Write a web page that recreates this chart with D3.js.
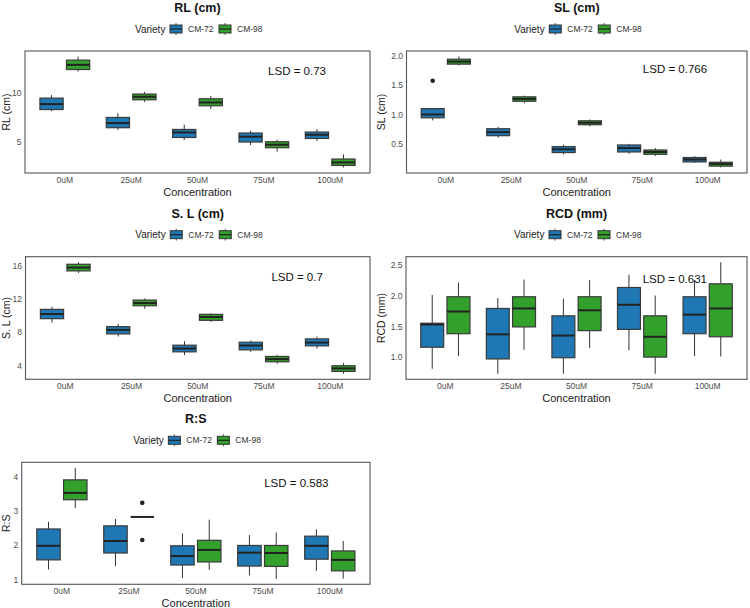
<!DOCTYPE html>
<html lang="en">
<head>
  <meta charset="UTF-8">
  <title>Boxplots by Concentration and Variety</title>
  <script src="https://d3js.org/d3.v7.min.js"></script>
  <style>
    body {
      margin: 0;
      background: white;
      font-family: "Liberation Sans", Arial, sans-serif;
    }
  </style>
</head>
<body>
  <svg width="750" height="608"></svg>
  <script>
    const concentrations = ["0uM", "25uM", "50uM", "75uM", "100uM"];
    const varieties = ["CM-72", "CM-98"];
    const colors = ["#1f78b4", "#33a02c"];

    // [lower whisker, Q1, median, Q3, upper whisker] for each concentration
    const rl72 = [[8.13, 8.30, 8.86, 9.48, 9.79], [6.18, 6.42, 6.90, 7.48, 7.93], [5.14, 5.41, 5.93, 6.24, 6.73], [4.63, 4.94, 5.49, 5.87, 6.11], [5.04, 5.31, 5.69, 5.97, 6.28]];
    const rl98 = [[12.23, 12.44, 12.92, 13.41, 13.78], [9.07, 9.31, 9.62, 9.90, 10.13], [8.35, 8.69, 9.03, 9.41, 9.69], [3.97, 4.35, 4.66, 4.97, 5.18], [2.31, 2.52, 2.83, 3.18, 3.66]];
    const sl72 = [[0.90, 0.944, 1.0, 1.10, 1.10], [0.606, 0.64, 0.70, 0.758, 0.79], [0.319, 0.353, 0.409, 0.454, 0.488], [0.33, 0.363, 0.43, 0.482, 0.50], [0.177, 0.194, 0.235, 0.269, 0.29]];
    const sl98 = [[1.833, 1.856, 1.90, 1.94, 1.985], [1.19, 1.225, 1.265, 1.30, 1.32], [0.797, 0.826, 0.86, 0.893, 0.916], [0.296, 0.324, 0.363, 0.397, 0.43], [0.10, 0.122, 0.16, 0.189, 0.235]];
    const sdl72 = [[9.16, 9.64, 10.2, 10.76, 11.08], [7.48, 7.8, 8.28, 8.68, 9.0], [5.24, 5.64, 6.04, 6.44, 6.92], [5.64, 5.88, 6.4, 6.8, 7.0], [6.04, 6.36, 6.76, 7.2, 7.48]];
    const sdl98 = [[15.16, 15.4, 15.8, 16.2, 16.44], [10.84, 11.2, 11.52, 11.88, 12.08], [9.24, 9.44, 9.84, 10.16, 10.28], [4.2, 4.44, 4.76, 5.08, 5.28], [3.0, 3.28, 3.64, 3.96, 4.28]];
    const rcd72 = [[0.81, 1.16, 1.53, 1.55, 2.01], [0.73, 0.97, 1.37, 1.79, 1.96], [0.73, 0.99, 1.35, 1.67, 1.95], [1.11, 1.45, 1.85, 2.13, 2.34], [1.02, 1.38, 1.69, 1.98, 2.25]];
    const rcd98 = [[1.02, 1.38, 1.74, 1.98, 2.21], [1.12, 1.49, 1.79, 1.98, 2.26], [1.15, 1.43, 1.76, 1.98, 2.25], [0.73, 1.0, 1.33, 1.67, 2.0], [1.01, 1.33, 1.79, 2.19, 2.54]];
    const rs72 = [[1.29, 1.57, 1.98, 2.47, 2.68], [1.39, 1.77, 2.12, 2.56, 2.76], [1.04, 1.42, 1.68, 1.98, 2.34], [1.12, 1.39, 1.78, 1.99, 2.29], [1.25, 1.59, 1.98, 2.26, 2.46]];
    const rs98 = [[3.08, 3.32, 3.52, 3.90, 4.25], [2.82, 2.82, 2.82, 2.82, 2.82], [1.28, 1.51, 1.86, 2.14, 2.74], [1.02, 1.38, 1.77, 1.99, 2.37], [1.02, 1.25, 1.57, 1.83, 2.12]];

    const slOutliers = [{conc: "0uM", variety: "CM-72", value: 1.574}];
    const rsOutliers = [{conc: "25uM", variety: "CM-98", value: 3.23}, {conc: "25uM", variety: "CM-98", value: 2.15}];

    const rlTicks = [5, 10];
    const slTicks = [0.5, 1.0, 1.5, 2.0];
    const sdlTicks = [4, 8, 12, 16];
    const rcdTicks = [1.0, 1.5, 2.0, 2.5];
    const rsTicks = [1, 2, 3, 4];

    const lsdLabels = ["LSD = 0.73", "LSD = 0.766", "LSD = 0.7", "LSD = 0.631", "LSD = 0.583"];

    const panels = [
      {title: "RL (cm)", ylab: "RL (cm)", s72: rl72, s98: rl98, out: [], ticks: rlTicks, fmt: d3.format("d"), lsd: lsdLabels[0], lsdY: 12.3,
       col: 0, left: 25, right: 370, top: 51, bottom: 173},
      {title: "SL (cm)", ylab: "SL (cm)", s72: sl72, s98: sl98, out: slOutliers, ticks: slTicks, fmt: d3.format(".1f"), lsd: lsdLabels[1], lsdY: 1.78,
       col: 375, left: 406.5, right: 747, top: 51, bottom: 173},
      {title: "S. L (cm)", ylab: "S. L (cm)", s72: sdl72, s98: sdl98, out: [], ticks: sdlTicks, fmt: d3.format("d"), lsd: lsdLabels[2], lsdY: 14.7,
       col: 0, left: 25.5, right: 370, top: 256.7, bottom: 379.3},
      {title: "RCD (mm)", ylab: "RCD (mm)", s72: rcd72, s98: rcd98, out: [], ticks: rcdTicks, fmt: d3.format(".1f"), lsd: lsdLabels[3], lsdY: 2.27,
       col: 375, left: 406, right: 747, top: 256.7, bottom: 379.3},
      {title: "R:S", ylab: "R:S", s72: rs72, s98: rs98, out: rsOutliers, ticks: rsTicks, fmt: d3.format("d"), lsd: lsdLabels[4], lsdY: 3.82,
       col: 0, left: 21.7, right: 370, top: 462.3, bottom: 584.3}
    ];

    const svg = d3.select("svg");

    panels.forEach(p => {
      const g = svg.append("g");
      const series = [p.s72, p.s98];

      const allVals = series.flat(2).concat(p.out.map(d => d.value));
      const [lo, hi] = d3.extent(allVals);
      const pad = (hi - lo) * 0.05;

      const x = d3.scaleBand().domain(concentrations).range([p.left, p.right])
        .paddingInner(0).paddingOuter(0.1);
      const step = x.step();
      const xSub = d3.scaleBand().domain(varieties).range([-0.4 * step, 0.4 * step])
        .paddingInner(0.125).paddingOuter(0.0625);
      const y = d3.scaleLinear().domain([lo - pad, hi + pad]).range([p.bottom, p.top]);

      const cx = (c, v) => x(c) + step / 2 + xSub(v) + xSub.bandwidth() / 2;
      const mid = (p.left + p.right) / 2;

      // title
      g.append("text").attr("x", mid).attr("y", p.top - 39)
        .attr("text-anchor", "middle").attr("font-size", 12.5).attr("font-weight", "bold")
        .attr("fill", "#111").text(p.title);

      // legend
      const ly = p.top - 22;
      const lg = g.append("g").attr("transform", `translate(${mid},${ly})`);
      lg.append("text").attr("x", -62.5).attr("y", 3.5).attr("font-size", 10).attr("fill", "#222").text("Variety");
      varieties.forEach((v, i) => {
        const kx = i === 0 ? -27.5 : 21.5;
        lg.append("line").attr("x1", kx + 6).attr("x2", kx + 6).attr("y1", -6).attr("y2", 6)
          .attr("stroke", "#333").attr("stroke-width", 0.8);
        lg.append("rect").attr("x", kx).attr("y", -4).attr("width", 12).attr("height", 8)
          .attr("fill", colors[i]).attr("stroke", "#333").attr("stroke-width", 1);
        lg.append("line").attr("x1", kx).attr("x2", kx + 12).attr("y1", 0).attr("y2", 0)
          .attr("stroke", "#222").attr("stroke-width", 1.2);
        lg.append("text").attr("x", kx + 18).attr("y", 3).attr("font-size", 8.5).attr("fill", "#333").text(v);
      });

      // panel border
      g.append("rect").attr("x", p.left).attr("y", p.top)
        .attr("width", p.right - p.left).attr("height", p.bottom - p.top)
        .attr("fill", "none").attr("stroke", "#555").attr("stroke-width", 1.1);

      // y axis labels
      const yAxis = d3.axisLeft(y).tickValues(p.ticks).tickFormat(p.fmt).tickSize(0).tickPadding(3.5);
      const ya = g.append("g").attr("transform", `translate(${p.left},0)`).call(yAxis);
      ya.select(".domain").remove();
      ya.selectAll("text").attr("font-size", 8.5).attr("fill", "#4d4d4d")
        .attr("font-family", "'Liberation Sans', Arial, sans-serif");

      // x axis labels
      const xAxis = d3.axisBottom(x).tickSize(0).tickPadding(4);
      const xa = g.append("g").attr("transform", `translate(0,${p.bottom})`).call(xAxis);
      xa.select(".domain").remove();
      xa.selectAll("text").attr("font-size", 8.5).attr("fill", "#4d4d4d")
        .attr("font-family", "'Liberation Sans', Arial, sans-serif");

      // axis titles
      g.append("text").attr("x", mid).attr("y", p.bottom + 23)
        .attr("text-anchor", "middle").attr("font-size", 11).attr("fill", "#222").text("Concentration");
      g.append("text")
        .attr("transform", `translate(${p.col + 9.5},${(p.top + p.bottom) / 2}) rotate(-90)`)
        .attr("text-anchor", "middle").attr("font-size", 10.5).attr("fill", "#222").text(p.ylab);

      // boxes
      varieties.forEach((v, vi) => {
        const stats = series[vi].map((s, ci) => ({conc: concentrations[ci], s}));
        const bw = xSub.bandwidth();
        const bg = g.append("g");

        bg.selectAll("line.whi-up").data(stats).join("line")
          .attr("x1", d => cx(d.conc, v)).attr("x2", d => cx(d.conc, v))
          .attr("y1", d => y(d.s[3])).attr("y2", d => y(d.s[4]))
          .attr("stroke", "#333").attr("stroke-width", 1);
        bg.selectAll("line.whi-lo").data(stats).join("line")
          .attr("x1", d => cx(d.conc, v)).attr("x2", d => cx(d.conc, v))
          .attr("y1", d => y(d.s[1])).attr("y2", d => y(d.s[0]))
          .attr("stroke", "#333").attr("stroke-width", 1);
        bg.selectAll("rect").data(stats).join("rect")
          .attr("x", d => cx(d.conc, v) - bw / 2).attr("width", bw)
          .attr("y", d => y(d.s[3])).attr("height", d => y(d.s[1]) - y(d.s[3]))
          .attr("fill", colors[vi]).attr("stroke", "#3a3a3a").attr("stroke-width", 1.2);
        bg.selectAll("line.med").data(stats).join("line")
          .attr("x1", d => cx(d.conc, v) - bw / 2).attr("x2", d => cx(d.conc, v) + bw / 2)
          .attr("y1", d => y(d.s[2])).attr("y2", d => y(d.s[2]))
          .attr("stroke", "#222").attr("stroke-width", 2);
      });

      // outliers
      g.selectAll("circle").data(p.out).join("circle")
        .attr("cx", d => cx(d.conc, d.variety)).attr("cy", d => y(d.value))
        .attr("r", 2.3).attr("fill", "#222");

      // LSD annotation, centred between 75uM and 100uM
      g.append("text").attr("x", x("100uM")).attr("y", y(p.lsdY) + 4)
        .attr("text-anchor", "middle").attr("font-size", 11.5).attr("fill", "#111").text(p.lsd);
    });
  </script>
</body>
</html>
